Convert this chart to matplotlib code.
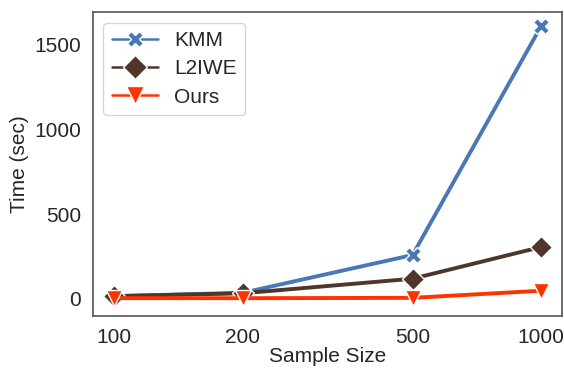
import matplotlib
matplotlib.use("Agg")
import matplotlib.pyplot as plt
import seaborn as sns

sizes = [100, 200, 500, 1000]
kmm = [15, 35, 258, 1608]
l2iwe = [15, 32, 118, 305]
ours = [3, 3, 5, 47]

sns.set_style("white")
plt.rcParams["font.family"] = ["Liberation Sans", "DejaVu Sans"]

fig, ax = plt.subplots(figsize=(5.64, 3.68), dpi=100)

ax.plot(sizes, kmm, color="#4A78B6", marker="X", markersize=11, lw=2.8,
        markeredgecolor="white", markeredgewidth=1, label="KMM")
ax.plot(sizes, l2iwe, color="#4E3629", marker="D", markersize=11, lw=2.8,
        markeredgecolor="white", markeredgewidth=1, label="L2IWE")
ax.plot(sizes, ours, color="#FF3300", marker="v", markersize=12, lw=2.8,
        markeredgecolor="white", markeredgewidth=1, label="Ours")

ax.set_xscale("log")
ax.set_xticks(sizes)
ax.set_xticklabels([str(s) for s in sizes])
ax.minorticks_off()
ax.set_yticks([0, 500, 1000, 1500])
ax.set_ylim(-105, 1692)
ax.tick_params(labelsize=15, pad=5)
ax.set_xlabel("Sample Size", fontsize=15, labelpad=0)
ax.set_ylabel("Time (sec)", fontsize=15)
for s in ax.spines.values():
    s.set_color("#555555")
    s.set_linewidth(1.2)

leg = ax.legend(loc="upper left", fontsize=15, handlelength=2.2,
                borderpad=0.4, labelspacing=0.45, markerscale=1.1)
for h in leg.get_lines():
    h.set_linewidth(1.8)

fig.subplots_adjust(left=0.165, right=0.997, top=0.967, bottom=0.14)
fig.savefig("out.png", dpi=100)
